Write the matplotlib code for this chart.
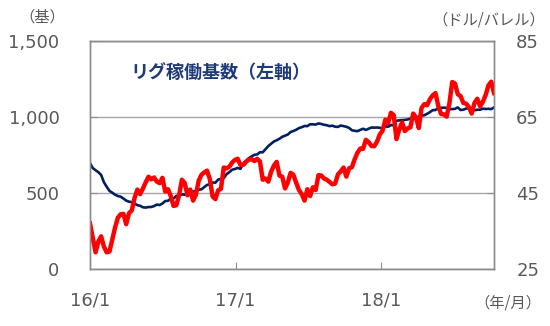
import numpy as np
import pandas as pd
import matplotlib
matplotlib.use("Agg")
import matplotlib.pyplot as plt

plt.rcParams['font.family'] = ['DejaVu Sans', 'Noto Sans CJK JP']

# weekly data, Fridays from 2016/1/1 to 2018/10/12
weeks = pd.date_range("2016-01-01", "2018-10-12", freq="W-FRI")

rigs_2016 = [698, 664, 650, 637, 619, 571, 541, 514, 502, 489, 480, 476, 464,
             450, 443, 440, 431, 420, 416, 406, 404, 408, 408, 414, 424, 421,
             431, 447, 449, 463, 464, 481, 482, 491, 489, 497, 508, 510, 511,
             522, 524, 539, 553, 557, 569, 568, 588, 593, 597, 624, 637, 653, 658]
rigs_2017 = [665, 659, 694, 712, 729, 741, 751, 754, 768, 768, 789, 809, 824,
             839, 847, 857, 870, 877, 885, 901, 908, 916, 927, 933, 941, 940,
             952, 952, 950, 958, 954, 949, 946, 940, 943, 936, 935, 944, 940,
             936, 928, 913, 909, 907, 915, 923, 915, 923, 931, 930, 931, 929]
rigs_2018 = [924, 939, 936, 947, 946, 975, 978, 980, 981, 984, 990, 995, 993,
             1003, 1008, 1012, 1021, 1032, 1045, 1046, 1059, 1060, 1062, 1059,
             1052, 1052, 1054, 1063, 1046, 1048, 1056, 1057, 1057, 1044, 1048,
             1048, 1055, 1053, 1054, 1052, 1063]

wti_2016 = [37.0, 33.2, 29.4, 32.2, 33.6, 30.9, 29.4, 29.6, 32.8, 35.9, 38.5,
            39.4, 39.5, 36.8, 39.7, 40.4, 43.7, 45.9, 44.7, 46.2, 47.8, 49.3,
            48.6, 49.1, 48.0, 47.6, 49.0, 45.4, 46.0, 44.2, 41.6, 41.8, 44.5,
            48.5, 47.6, 44.4, 45.9, 43.0, 44.5, 48.2, 49.8, 50.4, 50.9, 48.7,
            44.1, 43.4, 45.7, 46.1, 51.7, 51.5, 51.9, 53.0, 53.7]
wti_2017 = [54.0, 52.4, 52.4, 53.2, 53.8, 53.9, 53.4, 54.0, 53.3, 48.5, 48.8,
            48.0, 50.6, 52.2, 53.2, 49.6, 49.3, 46.2, 47.8, 50.3, 49.8, 47.7,
            45.8, 44.7, 43.0, 46.0, 44.2, 46.5, 45.8, 49.7, 49.6, 48.8, 48.5,
            47.9, 47.3, 47.5, 49.9, 50.7, 51.7, 49.3, 51.5, 51.8, 53.9, 55.6,
            56.7, 56.6, 59.0, 58.4, 57.4, 57.3, 58.5, 60.4]
wti_2018 = [61.4, 64.3, 63.4, 66.1, 65.5, 59.2, 61.7, 63.6, 61.3, 62.0, 62.3,
            65.9, 64.9, 62.1, 67.4, 68.4, 68.1, 69.7, 70.7, 71.3, 67.9, 65.8,
            65.7, 65.1, 68.6, 74.2, 73.8, 71.0, 70.5, 68.7, 68.5, 67.6, 65.9,
            68.7, 69.8, 67.8, 69.0, 70.8, 73.3, 74.3, 71.3]

rigs = rigs_2016 + rigs_2017 + rigs_2018
wti = wti_2016 + wti_2017 + wti_2018

x_ticks = pd.to_datetime(["2016-01-01", "2017-01-01", "2018-01-01"])
x_labels = ["16/1", "17/1", "18/1"]
left_ticks = [0, 500, 1000, 1500]
left_labels = ["0", "500", "1,000", "1,500"]
right_ticks = [25, 45, 65, 85]

gray = "#595959"
spine_gray = "#8c8c8c"

fig = plt.figure(figsize=(5.5, 3.26), dpi=100)
ax = fig.add_axes([0.1636, 0.1748, 0.7346, 0.6994])
ax2 = ax.twinx()

ax.plot(weeks, rigs, color="#002060", lw=1.9)
ax2.plot(weeks, wti, color="#ff0000", lw=3.2, solid_joinstyle="round")

ax.set_xlim(weeks[0], weeks[-1])
ax.set_ylim(0, 1500)
ax2.set_ylim(25, 85)

ax.set_xticks(x_ticks)
ax.set_xticklabels(x_labels)
ax.set_yticks(left_ticks)
ax.set_yticklabels(left_labels)
ax2.set_yticks(right_ticks)

ax.grid(axis="y", color="#a6a6a6", lw=1)
ax.set_axisbelow(True)

for a in (ax, ax2):
    for s in a.spines.values():
        s.set_color(spine_gray)
        s.set_linewidth(1)
ax.tick_params(axis="x", direction="in", length=5, color=spine_gray,
               labelsize=13, labelcolor=gray, pad=16)
ax.tick_params(axis="y", direction="in", length=5, color=spine_gray,
               labelsize=13, labelcolor=gray, pad=22)
ax2.tick_params(axis="y", direction="in", length=5, color=spine_gray,
                labelsize=13, labelcolor=gray, pad=16)

ax.text(0.10, 0.86, "リグ稼働基数（左軸）", transform=ax.transAxes,
        fontsize=13, fontweight="bold", color="#1f3a78",
        family=["Noto Sans CJK JP", "DejaVu Sans"], va="center")

fig.text(42 / 550, 1 - 17 / 326, "（基）", ha="center", va="center",
         fontsize=11, color=gray, family=["Noto Sans CJK JP", "DejaVu Sans"])
fig.text(489 / 550, 1 - 20 / 326, "（ドル/バレル）", ha="center", va="center",
         fontsize=11, color=gray, family=["Noto Sans CJK JP", "DejaVu Sans"])
fig.text(508 / 550, 1 - 303 / 326, "（年/月）", ha="center", va="center",
         fontsize=11, color=gray, family=["Noto Sans CJK JP", "DejaVu Sans"])

fig.savefig("out.png", dpi=100)
